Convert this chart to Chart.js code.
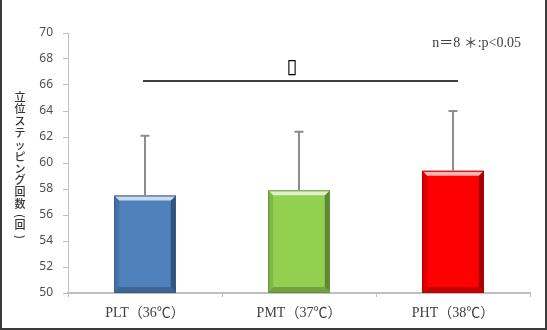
<!DOCTYPE html>
<html>
<head>
<meta charset="utf-8">
<script src="https://cdn.jsdelivr.net/npm/chart.js@4.4.0/dist/chart.umd.min.js"></script>
<style>
  html, body { margin: 0; padding: 0; background: #fff; }
  #wrap { width: 547px; height: 330px; position: relative; }
</style>
</head>
<body>
<div id="wrap"><canvas id="c"></canvas></div>
<script>
'use strict';

var categories = ['PLT（36℃）', 'PMT（37℃）', 'PHT（38℃）'];
var means = [57.5, 57.9, 59.4];
var sds = [4.6, 4.5, 4.6];
var yTicks = [50, 52, 54, 56, 58, 60, 62, 64, 66, 68, 70];
var yTitle = '立位ステッピング回数(回)';
var note = 'n＝8 ＊:p<0.05';
var sigMark = '▯';
var sigLevel = 66.3;

var barColors = ['#4f81bd', '#92d050', '#ff0000'];

function mix(hex, other, t) {
	var a = parseInt(hex.slice(1), 16), b = parseInt(other.slice(1), 16);
	var r = Math.round(((a >> 16) & 255) * (1 - t) + ((b >> 16) & 255) * t);
	var g = Math.round(((a >> 8) & 255) * (1 - t) + ((b >> 8) & 255) * t);
	var bl = Math.round((a & 255) * (1 - t) + (b & 255) * t);
	return 'rgb(' + r + ',' + g + ',' + bl + ')';
}

function face(ctx, pts, color) {
	ctx.beginPath();
	ctx.moveTo(pts[0][0], pts[0][1]);
	for (var i = 1; i < pts.length; i++) ctx.lineTo(pts[i][0], pts[i][1]);
	ctx.closePath();
	ctx.fillStyle = color;
	ctx.fill();
}

// white page with the dark frame on left, right and bottom
var frame = {
	id: 'frame',
	beforeDraw: function (chart) {
		var ctx = chart.ctx;
		ctx.save();
		ctx.fillStyle = '#fff';
		ctx.fillRect(0, 0, chart.width, chart.height);
		ctx.strokeStyle = '#3a3a3a';
		ctx.lineWidth = 2;
		ctx.beginPath();
		ctx.moveTo(1, 0);
		ctx.lineTo(1, chart.height - 1);
		ctx.lineTo(chart.width - 1, chart.height - 1);
		ctx.lineTo(chart.width - 1, 0);
		ctx.stroke();
		ctx.restore();
	}
};

// bevelled bar faces, SD whiskers and the significance bracket
var decorations = {
	id: 'decorations',
	afterDatasetsDraw: function (chart) {
		var ctx = chart.ctx;
		var y = chart.scales.y, x = chart.scales.x;
		var meta = chart.getDatasetMeta(0);
		ctx.save();
		meta.data.forEach(function (bar, i) {
			var p = bar.getProps(['x', 'y', 'base', 'width'], true);
			var x0 = p.x - p.width / 2, x1 = p.x + p.width / 2;
			var y0 = p.y, y1 = Math.min(p.base, chart.chartArea.bottom) - 1, b = 5;
			var c = barColors[i];
			face(ctx, [[x0, y0], [x0 + b, y0 + b], [x0 + b, y1 - b], [x0, y1]], mix(c, '#000000', 0.12));
			face(ctx, [[x1, y0], [x1, y1], [x1 - b, y1 - b], [x1 - b, y0 + b]], mix(c, '#000000', 0.35));
			face(ctx, [[x0, y1], [x1, y1], [x1 - b, y1 - b], [x0 + b, y1 - b]], mix(c, '#000000', 0.22));
			face(ctx, [[x0, y0], [x1, y0], [x1 - b, y0 + b], [x0 + b, y0 + b]], mix(c, '#ffffff', 0.7));
			ctx.strokeStyle = mix(c, '#000000', 0.3);
			ctx.lineWidth = 1;
			ctx.strokeRect(x0 + 0.5, y0 + 0.5, p.width - 1, y1 - y0);

			// SD whisker
			var top = y.getPixelForValue(means[i] + sds[i]);
			ctx.strokeStyle = '#8c8c8c';
			ctx.lineWidth = 2;
			ctx.beginPath();
			ctx.moveTo(p.x, y0);
			ctx.lineTo(p.x, top);
			ctx.moveTo(p.x - 4.5, top);
			ctx.lineTo(p.x + 4.5, top);
			ctx.stroke();
		});

		var sy = y.getPixelForValue(sigLevel);
		var xa = x.getPixelForValue(0), xb = x.getPixelForValue(2);
		ctx.strokeStyle = '#000';
		ctx.lineWidth = 1.5;
		ctx.beginPath();
		ctx.moveTo(xa - 2, sy);
		ctx.lineTo(xb + 5, sy);
		ctx.stroke();
		ctx.fillStyle = '#000';
		ctx.font = '20px "DejaVu Sans"';
		ctx.textAlign = 'center';
		ctx.textBaseline = 'bottom';
		ctx.fillText(sigMark, (xa + xb) / 2 - 7, sy - 3);

		ctx.font = '14px "Liberation Serif", "Noto Sans CJK JP"';
		ctx.fillStyle = '#404040';
		ctx.textAlign = 'right';
		ctx.textBaseline = 'middle';
		ctx.fillText(note, 521, 43);
		ctx.restore();
	}
};

// vertical (top-to-bottom) y axis title
var verticalTitle = {
	id: 'verticalTitle',
	afterDraw: function (chart) {
		var ctx = chart.ctx;
		var chars = Array.from(yTitle);
		var cx = 20, cy = 97, step = 11.9;
		ctx.save();
		ctx.fillStyle = '#333';
		ctx.font = '500 11px "Noto Sans CJK JP"';
		ctx.textAlign = 'center';
		ctx.textBaseline = 'middle';
		chars.forEach(function (ch) {
			if (ch === '(' || ch === ')') {
				ctx.save();
				ctx.translate(cx, cy);
				ctx.rotate(Math.PI / 2);
				ctx.fillText(ch, 0, 0);
				ctx.restore();
				cy += 9;
			} else {
				ctx.fillText(ch, cx, cy);
				cy += step;
			}
		});
		ctx.restore();
	}
};

new Chart(document.getElementById('c'), {
	type: 'bar',
	data: {
		labels: categories,
		datasets: [{
			data: means,
			backgroundColor: barColors,
			borderWidth: 0,
			barPercentage: 0.4,
			categoryPercentage: 1
		}]
	},
	options: {
		responsive: true,
		maintainAspectRatio: false,
		animation: false,
		layout: { padding: { top: 33, right: 17, left: 0, bottom: 0 } },
		plugins: {
			legend: { display: false },
			tooltip: { enabled: false }
		},
		scales: {
			x: {
				grid: { display: true, drawOnChartArea: false, offset: true, tickLength: 4, color: '#bfbfbf' },
				border: { color: '#bfbfbf', width: 2 },
				ticks: {
					padding: 8,
					color: '#404040',
					font: { family: '"Liberation Serif", "Noto Sans CJK JP"', size: 14 }
				},
				afterFit: function (s) { s.height = 37; }
			},
			y: {
				min: 50,
				max: 70,
				afterBuildTicks: function (s) {
					s.ticks = yTicks.map(function (v) { return { value: v }; });
				},
				grid: { display: true, drawOnChartArea: false, tickLength: 5, color: '#bfbfbf' },
				border: { color: '#bfbfbf', width: 1 },
				ticks: {
					padding: 10,
					color: '#505050',
					font: { family: '"Noto Sans"', size: 12 }
				},
				afterFit: function (s) { s.width = 68; }
			}
		}
	},
	plugins: [frame, decorations, verticalTitle]
});
</script>
</body>
</html>
